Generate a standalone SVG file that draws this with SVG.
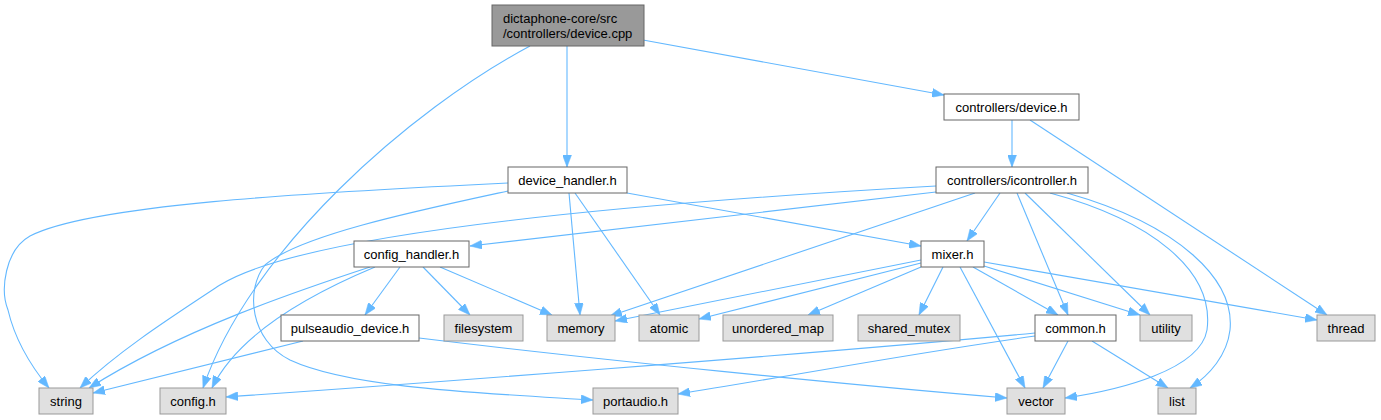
<svg xmlns="http://www.w3.org/2000/svg" width="1381" height="420" viewBox="0 0 1381 420">
<defs>
<style>
.n rect{fill:#ffffff;stroke:#666666;stroke-width:1}
.g rect{fill:#e0e0e0;stroke:#999999;stroke-width:1}
.r rect{fill:#999999;stroke:#666666;stroke-width:1}
text{font-family:"Liberation Sans",Arial,sans-serif;font-size:13px;fill:#000000}
.c{text-anchor:middle}
#edges path{fill:none;stroke:#63b8ff;stroke-width:1.1;marker-end:url(#ah)}
</style>
<marker id="ah" viewBox="0 0 12 9" markerWidth="12" markerHeight="9" refX="12" refY="4.5" orient="auto" markerUnits="userSpaceOnUse">
<path d="M0,0 L12,4.5 L0,9 z" fill="#63b8ff" stroke="#63b8ff" stroke-width="0.5"/>
</marker>
</defs>
<rect width="1381" height="420" fill="#ffffff"/>
<g id="edges">
<path d="M530,46 C410,110 250,250 203,388"/>
<path d="M567,46 L567,167"/>
<path d="M643,40 L944,95"/>
<path d="M1012,120 L1012,167"/>
<path d="M1030,120 L1327,315"/>
<path d="M508,183 C300,193 90,205 30,236 C5,250 0,290 8,310 C15,340 30,365 49,388"/>
<path d="M508,191 C420,210 300,235 265,265 C245,290 250,340 290,360 C350,388 480,393 593,400"/>
<path d="M569,193 L580,315"/>
<path d="M575,193 L660,315"/>
<path d="M627,193 L921,246"/>
<path d="M936,186 C600,205 300,235 220,285 C170,318 120,350 80,388"/>
<path d="M936,192 L470,246"/>
<path d="M975,193 L610,316"/>
<path d="M1000,193 L967,241"/>
<path d="M1017,193 L1068,315"/>
<path d="M1025,193 L1150,315"/>
<path d="M1050,193 C1150,220 1215,270 1207,330 C1200,370 1120,390 1065,398"/>
<path d="M1067,193 C1180,225 1235,280 1230,330 C1227,355 1210,375 1190,388"/>
<path d="M370,267 C300,290 180,330 89,388"/>
<path d="M375,267 C320,290 240,330 212,388"/>
<path d="M400,267 L365,315"/>
<path d="M423,267 L470,315"/>
<path d="M440,267 L552,315"/>
<path d="M303,341 L93,393"/>
<path d="M419,338 C600,360 850,385 1007,398"/>
<path d="M921,260 L615,321"/>
<path d="M921,263 L699,319"/>
<path d="M921,267 L808,315"/>
<path d="M943,267 L919,315"/>
<path d="M960,267 L1025,388"/>
<path d="M973,267 L1058,315"/>
<path d="M984,266 L1140,315"/>
<path d="M984,262 L1317,320"/>
<path d="M1035,333 C800,355 400,385 226,397"/>
<path d="M1035,336 C900,355 780,378 678,394"/>
<path d="M1068,341 L1043,388"/>
<path d="M1092,341 L1168,388"/>
</g>
<g id="node-root" class="r"><rect x="492" y="5" width="152" height="41"/><text x="503" y="23">dictaphone-core/src</text><text x="503" y="38">/controllers/device.cpp</text></g>
<g id="node-device-h" class="n"><rect x="944" y="94" width="135" height="26"/><text class="c" x="1011.5" y="111.5">controllers/device.h</text></g>
<g id="node-icontroller" class="n"><rect x="936" y="167" width="152" height="26"/><text class="c" x="1012" y="184.5">controllers/icontroller.h</text></g>
<g id="node-device-handler" class="n"><rect x="508" y="167" width="119" height="26"/><text class="c" x="567.5" y="184.5">device_handler.h</text></g>
<g id="node-config-handler" class="n"><rect x="354" y="241" width="115" height="26"/><text class="c" x="411.5" y="258.5">config_handler.h</text></g>
<g id="node-mixer" class="n"><rect x="921" y="241" width="63" height="26"/><text class="c" x="952.5" y="258.5">mixer.h</text></g>
<g id="node-pulseaudio" class="n"><rect x="281" y="315" width="138" height="26"/><text class="c" x="350" y="332.5">pulseaudio_device.h</text></g>
<g id="node-filesystem" class="g"><rect x="444" y="315" width="79" height="26"/><text class="c" x="483.5" y="332.5">filesystem</text></g>
<g id="node-memory" class="g"><rect x="547" y="315" width="68" height="26"/><text class="c" x="581" y="332.5">memory</text></g>
<g id="node-atomic" class="g"><rect x="639" y="315" width="60" height="26"/><text class="c" x="669" y="332.5">atomic</text></g>
<g id="node-unordered-map" class="g"><rect x="723" y="315" width="110" height="26"/><text class="c" x="778" y="332.5">unordered_map</text></g>
<g id="node-shared-mutex" class="g"><rect x="858" y="315" width="102" height="26"/><text class="c" x="909" y="332.5">shared_mutex</text></g>
<g id="node-common" class="n"><rect x="1035" y="315" width="81" height="26"/><text class="c" x="1075.5" y="332.5">common.h</text></g>
<g id="node-utility" class="g"><rect x="1140" y="315" width="52" height="26"/><text class="c" x="1166" y="332.5">utility</text></g>
<g id="node-thread" class="g"><rect x="1317" y="315" width="58" height="26"/><text class="c" x="1346" y="332.5">thread</text></g>
<g id="node-string" class="g"><rect x="39" y="388" width="54" height="26"/><text class="c" x="66" y="405.5">string</text></g>
<g id="node-config" class="g"><rect x="160" y="388" width="66" height="26"/><text class="c" x="193" y="405.5">config.h</text></g>
<g id="node-portaudio" class="g"><rect x="593" y="388" width="85" height="26"/><text class="c" x="635.5" y="405.5">portaudio.h</text></g>
<g id="node-vector" class="g"><rect x="1007" y="388" width="58" height="26"/><text class="c" x="1036" y="405.5">vector</text></g>
<g id="node-list" class="g"><rect x="1158" y="388" width="38" height="26"/><text class="c" x="1177" y="405.5">list</text></g>
</svg>
